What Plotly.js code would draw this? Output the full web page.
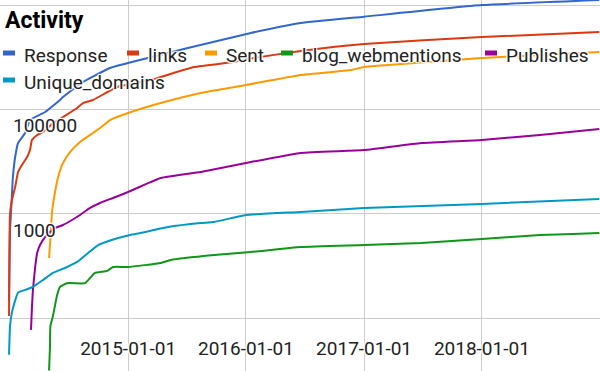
<!DOCTYPE html>
<html>
<head>
<meta charset="utf-8">
<script src="https://cdn.plot.ly/plotly-3.0.1.min.js"></script>
<style>html,body{margin:0;padding:0;background:#fff}#chart{width:600px;height:371px}</style>
</head>
<body>
<div id="chart"></div>
<script>
// ---- data ----
const seriesNames = ["Response", "links", "Sent", "blog_webmentions", "Publishes", "Unique_domains"];
const seriesColors = ["#3366cc", "#dc3912", "#ff9900", "#109618", "#990099", "#0099c6"];

const responseDates = ["2013-12-28","2013-12-31","2014-01-03","2014-01-09","2014-01-16","2014-01-25","2014-02-16","2014-03-03","2014-03-31","2014-04-19","2014-06-04","2014-06-13","2014-08-14","2014-11-06","2015-03-03","2015-07-05","2016-01-16","2016-06-19","2017-01-01","2018-01-01","2018-12-31"];
const responseValues = [22,492,1040,5090,12300,22800,35500,62900,78400,89600,152000,173000,337000,624000,970000,1510000,2920000,4540000,6000000,10000000,12500000];

const linksDates = ["2013-12-28","2013-12-31","2014-01-06","2014-01-16","2014-01-25","2014-02-06","2014-02-22","2014-03-03","2014-03-09","2014-03-25","2014-04-12","2014-05-10","2014-06-13","2014-07-27","2014-08-14","2014-09-14","2014-11-28","2015-03-12","2015-07-24","2015-11-24","2016-01-25","2016-06-19","2017-01-01","2018-01-01","2018-12-31"];
const linksValues = [11,1000,1850,3280,6350,8650,12300,16700,26100,32500,37100,52500,71800,107000,133000,152000,270000,367000,652000,813000,970000,1320000,1800000,2450000,3050000];

const sentDates = ["2014-05-01","2014-05-07","2014-05-10","2014-05-19","2014-05-29","2014-06-13","2014-07-05","2014-08-05","2014-09-14","2014-10-06","2014-11-06","2015-01-01","2015-04-12","2015-08-14","2016-01-01","2016-06-19","2016-11-22","2017-01-01","2018-01-01","2018-12-31"];
const sentValues = [143,492,1040,2510,5090,9440,15300,23800,35500,44200,62900,85700,133000,207000,295000,458000,571000,652000,970000,1260000];

const webmentionDates = ["2014-05-01","2014-05-04","2014-05-05","2014-05-13","2014-05-26","2014-06-04","2014-06-26","2014-08-20","2014-09-05","2014-09-20","2014-10-28","2014-11-15","2015-01-01","2015-04-12","2015-05-13","2015-09-24","2016-01-16","2016-06-19","2017-01-01","2017-06-27","2018-01-01","2018-06-30","2018-10-10","2018-12-31"];
const webmentionValues = [1,3,7,11,28,40,47,47,59,74,81,96,96,115,131,163,186,232,253,277,330,394,412,431];

const publishesDates = ["2014-03-06","2014-03-09","2014-03-12","2014-03-19","2014-03-25","2014-04-03","2014-04-19","2014-05-04","2014-05-19","2014-06-13","2014-07-11","2014-08-05","2014-09-05","2014-10-06","2014-11-15","2015-01-01","2015-04-12","2015-08-14","2016-01-01","2016-06-19","2017-01-01","2017-06-27","2018-01-01","2018-06-30","2018-12-31"];
const publishesValues = [6,16,35,96,178,253,361,450,537,613,764,952,1300,1620,2020,2630,4870,6350,9440,14700,16700,22800,26100,32500,42300];

const domainsDates = ["2013-12-28","2013-12-31","2014-01-06","2014-01-16","2014-01-25","2014-02-16","2014-03-12","2014-04-12","2014-05-13","2014-06-19","2014-07-27","2014-08-30","2014-09-30","2014-11-06","2015-01-07","2015-02-09","2015-05-04","2015-08-14","2015-09-24","2016-01-01","2016-06-19","2017-01-01","2018-01-01","2018-12-31"];
const domainsValues = [2,7,13,22,31,35,40,54,74,92,120,178,253,310,394,431,561,670,700,952,1090,1300,1550,1930];

const xTickVals = ["2014-01-01","2015-01-01","2016-01-01","2017-01-01","2018-01-01"];
const xTickText = ["","2015-01-01","2016-01-01","2017-01-01","2018-01-01"];
const yTickVals = [10, 1000, 100000, 10000000];
const yTickText = ["", "1000", "100000", ""];

// ---- chart ----
const allDates = [responseDates, linksDates, sentDates, webmentionDates, publishesDates, domainsDates];
const allValues = [responseValues, linksValues, sentValues, webmentionValues, publishesValues, domainsValues];

const traces = seriesNames.map((n, i) => ({
  type: "scatter", mode: "lines", name: n,
  x: allDates[i], y: allValues[i],
  line: {color: seriesColors[i], width: 2, shape: "spline", smoothing: 0.4},
  hoverinfo: "skip"
}));

const W = 600, H = 371;
const halo = "1px 1px 1px #fff, -1px -1px 1px #fff, 1px -1px 1px #fff, -1px 1px 1px #fff, 0 0 2px #fff";
const FONT = "Roboto, 'Noto Sans', sans-serif";

// legend layout (pixel positions)
const legendItems = [
  {x: 3, y: 53}, {x: 127, y: 53}, {x: 205, y: 53}, {x: 281, y: 53}, {x: 485, y: 53}, {x: 3, y: 80}
];
const annotations = [];
const shapes = [];
seriesNames.forEach((n, i) => {
  const p = legendItems[i];
  shapes.push({type: "rect", xref: "paper", yref: "paper",
    x0: p.x / W, x1: (p.x + 12) / W, y0: 1 - (p.y + 2.5) / H, y1: 1 - (p.y - 2.5) / H,
    fillcolor: seriesColors[i], line: {width: 0}, layer: "above"});
  annotations.push({xref: "paper", yref: "paper", x: (p.x + 19) / W, y: 1 - (p.y + 2.5) / H,
    xanchor: "left", yanchor: "middle", showarrow: false, text: n,
    font: {family: FONT, size: 19, color: "#222", shadow: halo}});
});

const layout = {
  width: W, height: H,
  margin: {l: 0, r: 0, t: 0, b: 0, pad: 0},
  paper_bgcolor: "#fff", plot_bgcolor: "#fff",
  showlegend: false,
  title: {text: "<b>Activity</b>", x: 5 / W, xanchor: "left", xref: "paper",
          y: 1 - 20 / H, yref: "container", yanchor: "middle",
          font: {family: FONT, size: 23, color: "#000", shadow: halo}},
  xaxis: {type: "date", range: ["2013-11-30", "2019-01-02"],
          tickmode: "array", tickvals: xTickVals, ticktext: xTickText,
          ticklabelposition: "inside", ticks: "", ticklabelstandoff: 9,
          showgrid: true, gridcolor: "#cccccc", gridwidth: 1,
          zeroline: false, showline: false,
          tickfont: {family: FONT, size: 19, color: "#222", shadow: halo}},
  yaxis: {type: "log", range: [-0.01, 7.098],
          tickmode: "array", tickvals: yTickVals, ticktext: yTickText,
          ticklabelposition: "inside", ticks: "", ticklabelshift: 16, ticklabelstandoff: 10,
          showgrid: true, gridcolor: "#cccccc", gridwidth: 1,
          zeroline: false, showline: false,
          tickfont: {family: FONT, size: 19, color: "#222", shadow: halo}},
  annotations: annotations,
  shapes: shapes
};

Plotly.newPlot("chart", traces, layout, {displayModeBar: false, staticPlot: true});
</script>
</body>
</html>
